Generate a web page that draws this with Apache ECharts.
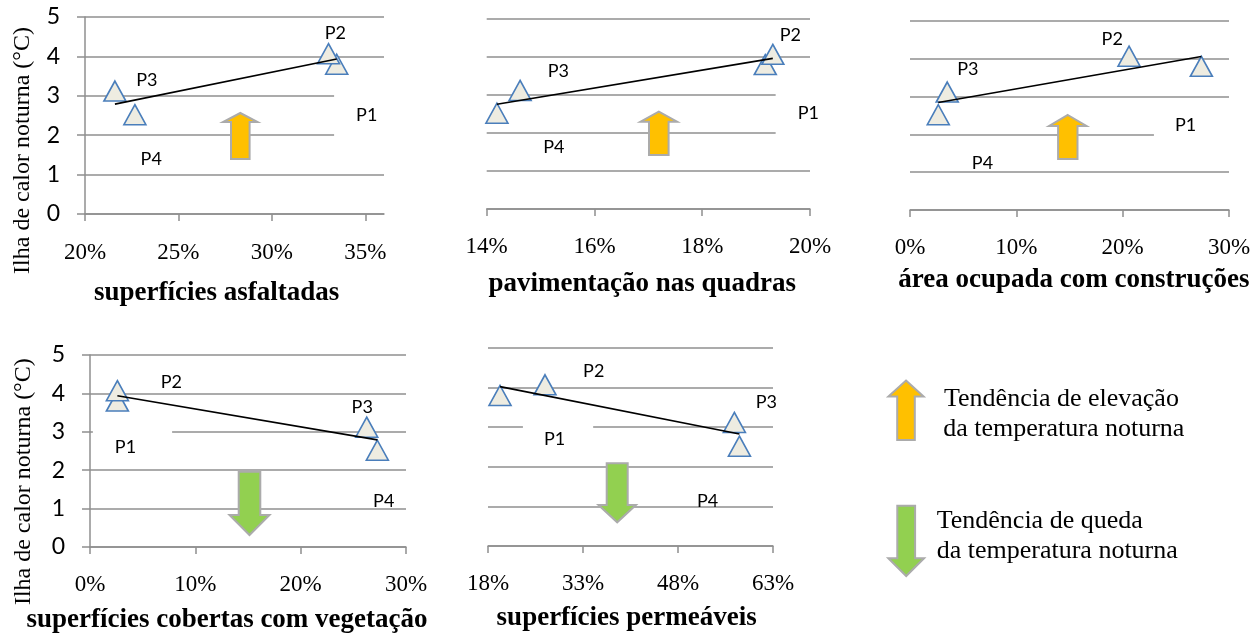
<!DOCTYPE html>
<html>
<head>
<meta charset="utf-8">
<script src="https://cdn.jsdelivr.net/npm/echarts@6/dist/echarts.min.js"></script>
<style>
  html, body { margin: 0; padding: 0; background: #ffffff; }
  #chart { width: 1260px; height: 639px; }
</style>
</head>
<body>
<div id="chart"></div>
<script>
// Sampling points and nocturnal heat-island intensity (°C)
const pointNames = ['P1', 'P2', 'P3', 'P4'];
const nightHeatIsland = [3.8, 4.07, 3.12, 2.52];

// Urban surface shares at each point (%)
const asphaltSurfaces   = [33.47, 33.03, 21.6, 22.67];
const blockPaving       = [19.17, 19.31, 14.62, 14.19];
const builtArea         = [27.4, 20.6, 3.5, 2.66];
const vegetatedSurfaces = [2.6, 2.6, 26.27, 27.28];
const permeableSurfaces = [19.9, 27.0, 56.9, 57.7];

// Axis texts and tick labels
const xTitles = [
  'superfícies asfaltadas',
  'pavimentação nas quadras',
  'área ocupada com construções',
  'superfícies cobertas com vegetação',
  'superfícies permeáveis'
];
const yTitle = 'Ilha de calor noturna (°C)';
const xTicks = [[20, 25, 30, 35], [14, 16, 18, 20], [0, 10, 20, 30], [0, 10, 20, 30], [18, 33, 48, 63]];
const yTicks = [0, 1, 2, 3, 4, 5];
const legendRise = ['Tendência de elevação', 'da temperatura noturna'];
const legendFall = ['Tendência de queda', 'da temperatura noturna'];

const panelData = [asphaltSurfaces, blockPaving, builtArea, vegetatedSurfaces, permeableSurfaces];

// Panel geometry, label placement and trend arrows
const layout = [
  { grid: { left: 85, top: 17, width: 299, height: 197 }, xMax: 36, yAxis: true, xMargin: 27,
    offsets: [[30, 49.4], [6.8, -20.6], [32, -10.4], [16.3, 44.5]], p1Pad: [12, 10, 16, 22],
    title: [216.7, 292.7], yTitle: [23, 150.5],
    arrow: { dir: 'up', cx: 240.3, a: 113, b: 122, c: 159, hw: 17.2, sw: 9.3 } },
  { grid: { left: 486.7, top: 19, width: 323.3, height: 190 }, yAxis: false, xMargin: 26,
    offsets: [[43, 40.7], [17.6, -18.8], [38.2, -18.9], [56.9, 33.5]], p1Pad: [6, 10, 22, 22],
    title: [642.3, 284.3],
    arrow: { dir: 'up', cx: 658.8, a: 111.7, b: 121.7, c: 155, hw: 18.3, sw: 9.8 } },
  { grid: { left: 910, top: 21, width: 319, height: 189 }, yAxis: false, xMargin: 26.5,
    offsets: [[-15.8, 58.9], [-16.8, -17.4], [20.6, -22.9], [44.2, 48.6]], p1Pad: [6, 36, 5, 21],
    title: [1073.8, 280.3],
    arrow: { dir: 'up', cx: 1067.8, a: 115, b: 126, c: 159, hw: 18.7, sw: 9.7 } },
  { grid: { left: 90, top: 355, width: 316, height: 192 }, yAxis: true, xMargin: 26.5,
    offsets: [[8.1, 47.7], [53.9, -8.2], [-4.5, -20], [6.4, 51]], p1Pad: [10, 36, 6, 22],
    title: [227, 620.3], yTitle: [24, 481.7],
    arrow: { dir: 'down', cx: 249.5, a: 471.7, b: 515, c: 535, hw: 20, sw: 10.8 } },
  { grid: { left: 488, top: 348, width: 285, height: 198 }, yAxis: false, xMargin: 26,
    offsets: [[54.5, 44.3], [48.7, -14], [31.9, -19.9], [-31.9, 55.3]], p1Pad: [8, 28, 6, 21],
    title: [626.7, 617.7],
    arrow: { dir: 'down', cx: 617.2, a: 463.3, b: 505, c: 522.3, hw: 18.7, sw: 10.5 } }
];

const legendArrows = [
  { dir: 'up', cx: 906, a: 380.5, b: 396.5, c: 440, hw: 17.6, sw: 8.8 },
  { dir: 'down', cx: 906.2, a: 505.7, b: 558.3, c: 576, hw: 17.9, sw: 8.9 }
];

const GRID_GREY = '#8f8f8f';
const RISE = '#FFC000';
const FALL = '#92D050';
const ARROW_EDGE = '#ababab';
const SANS = 'Lato';
const SERIF = '"Liberation Serif", "DejaVu Serif", serif';

// Least-squares line over the points, drawn between the extreme x values
function trendLine(xs, ys) {
  const n = xs.length;
  const mx = xs.reduce((s, v) => s + v, 0) / n;
  const my = ys.reduce((s, v) => s + v, 0) / n;
  let sxy = 0, sxx = 0;
  for (let i = 0; i < n; i++) {
    sxy += (xs[i] - mx) * (ys[i] - my);
    sxx += (xs[i] - mx) * (xs[i] - mx);
  }
  const slope = sxy / sxx;
  const x0 = Math.min(...xs), x1 = Math.max(...xs);
  return [[x0, my + slope * (x0 - mx)], [x1, my + slope * (x1 - mx)]];
}

function arrowPoints(ar) {
  const { cx, a, b, c, hw, sw } = ar;
  if (ar.dir === 'up') {
    // a = tip, b = head base, c = shaft bottom
    return [[cx, a], [cx + hw, b], [cx + sw, b], [cx + sw, c], [cx - sw, c], [cx - sw, b], [cx - hw, b]];
  }
  // a = shaft top, b = head base, c = tip
  return [[cx - sw, a], [cx + sw, a], [cx + sw, b], [cx + hw, b], [cx, c], [cx - hw, b], [cx - sw, b]];
}

const grids = [], xAxes = [], yAxes = [], series = [], graphics = [];

layout.forEach((L, i) => {
  grids.push(Object.assign({ containLabel: false }, L.grid));
  const ticks = xTicks[i];
  xAxes.push({
    type: 'value', gridIndex: i,
    min: ticks[0], max: L.xMax !== undefined ? L.xMax : ticks[ticks.length - 1],
    interval: ticks[1] - ticks[0],
    axisLine: { show: true, onZero: false, lineStyle: { color: GRID_GREY, width: 1.5 } },
    axisTick: { show: true, inside: false, length: 7, customValues: ticks, lineStyle: { color: GRID_GREY, width: 1.5 } },
    axisLabel: {
      show: true, customValues: ticks, margin: L.xMargin,
      formatter: v => Math.round(v) + '%',
      fontFamily: SERIF, fontSize: 23, color: '#000'
    },
    splitLine: { show: false }
  });
  yAxes.push({
    type: 'value', gridIndex: i, min: yTicks[0], max: yTicks[yTicks.length - 1], interval: 1,
    axisLine: { show: L.yAxis, lineStyle: { color: GRID_GREY, width: 1.5 } },
    axisTick: { show: L.yAxis, inside: false, length: 8, lineStyle: { color: GRID_GREY, width: 1.5 } },
    axisLabel: { show: L.yAxis, margin: 25, fontFamily: SANS, fontSize: 23, color: '#000' },
    splitLine: { show: true, lineStyle: { color: GRID_GREY, width: 1.5 } }
  });

  const xs = panelData[i];
  series.push({
    type: 'scatter', xAxisIndex: i, yAxisIndex: i, z: 2,
    symbol: 'triangle', symbolSize: [22, 20],
    itemStyle: { color: '#EEECE1', borderColor: '#4A7EBB', borderWidth: 1.6, opacity: 1 },
    label: {
      show: true, position: 'inside', formatter: '{b}',
      fontFamily: SANS, fontSize: 18, lineHeight: 18, color: '#000'
    },
    emphasis: { disabled: true },
    data: xs.map((x, k) => {
      const off = L.offsets[k];
      const item = { name: pointNames[k], value: [x, nightHeatIsland[k]] };
      if (k === 0) {
        // P1 label sits on an opaque white box
        const p = L.p1Pad;
        item.label = {
          backgroundColor: '#ffffff', padding: p,
          offset: [off[0] - (p[3] - p[1]) / 2, off[1] - (p[0] - p[2]) / 2]
        };
      } else {
        item.label = { offset: off };
      }
      return item;
    })
  });
  series.push({
    type: 'line', xAxisIndex: i, yAxisIndex: i, z: 3,
    symbol: 'none', silent: true,
    lineStyle: { color: '#000', width: 1.6 },
    data: trendLine(xs, nightHeatIsland)
  });

  graphics.push({
    type: 'text', x: L.title[0], y: L.title[1], silent: true,
    style: { text: xTitles[i], font: 'bold 27px ' + SERIF, fill: '#000', align: 'center', verticalAlign: 'middle' }
  });
  if (L.yTitle) {
    graphics.push({
      type: 'text', x: L.yTitle[0], y: L.yTitle[1], rotation: Math.PI / 2, silent: true,
      style: { text: yTitle, font: '24px ' + SERIF, fill: '#000', align: 'center', verticalAlign: 'middle' }
    });
  }
  graphics.push({
    type: 'polygon', silent: true, z: 10,
    shape: { points: arrowPoints(L.arrow) },
    style: { fill: L.arrow.dir === 'up' ? RISE : FALL, stroke: ARROW_EDGE, lineWidth: 2 }
  });
});

// Legend of the trend arrows
legendArrows.forEach(ar => {
  graphics.push({
    type: 'polygon', silent: true, z: 10,
    shape: { points: arrowPoints(ar) },
    style: { fill: ar.dir === 'up' ? RISE : FALL, stroke: ARROW_EDGE, lineWidth: 2 }
  });
});
const legendLines = [
  [legendRise[0], 944, 398.7], [legendRise[1], 943.3, 428.7],
  [legendFall[0], 936.7, 521.4], [legendFall[1], 936.7, 550.7]
];
legendLines.forEach(([t, x, y]) => {
  graphics.push({
    type: 'text', x: x, y: y, silent: true,
    style: { text: t, font: '26px ' + SERIF, fill: '#000', align: 'left', verticalAlign: 'middle' }
  });
});

const chart = echarts.init(document.getElementById('chart'), null, { renderer: 'canvas' });
chart.setOption({
  animation: false,
  backgroundColor: '#ffffff',
  textStyle: { fontFamily: SANS },
  grid: grids,
  xAxis: xAxes,
  yAxis: yAxes,
  series: series,
  graphic: { elements: graphics }
});
</script>
</body>
</html>
